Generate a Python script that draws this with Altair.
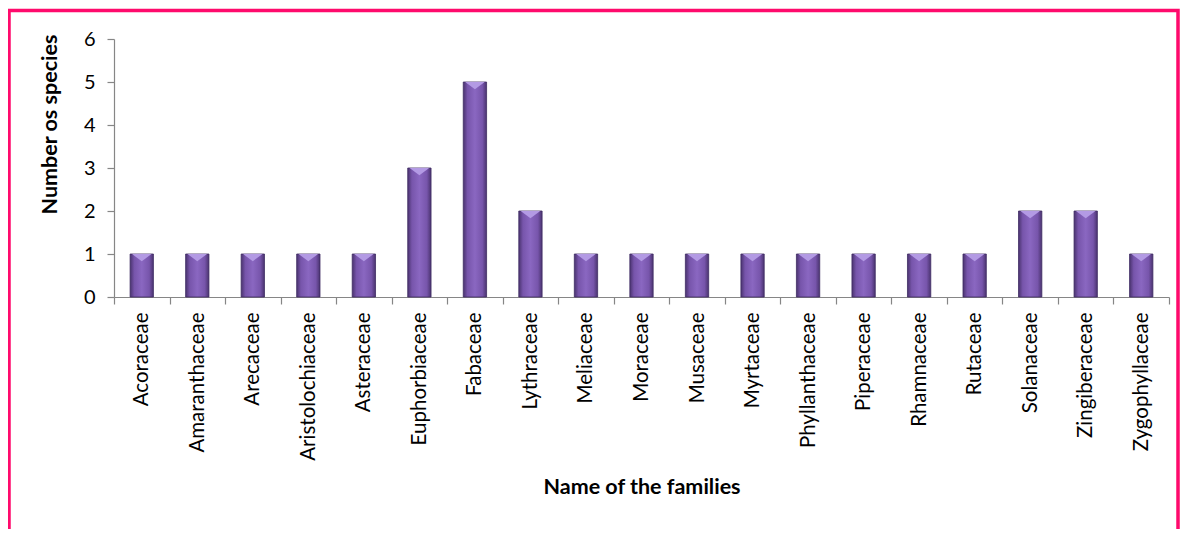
import altair as alt
import pandas as pd

families = ["Acoraceae", "Amaranthaceae", "Arecaceae", "Aristolochiaceae", "Asteraceae",
            "Euphorbiaceae", "Fabaceae", "Lythraceae", "Meliaceae", "Moraceae", "Musaceae",
            "Myrtaceae", "Phyllanthaceae", "Piperaceae", "Rhamnaceae", "Rutaceae",
            "Solanaceae", "Zingiberaceae", "Zygophyllaceae"]
species = [1, 1, 1, 1, 1, 3, 5, 2, 1, 1, 1, 1, 1, 1, 1, 1, 2, 2, 1]
y_ticks = [0, 1, 2, 3, 4, 5, 6]

df = pd.DataFrame({"family": families, "n": species})

W, H = 1055, 258
FONT = "Lato"

x_enc = alt.X("family:N", sort=families,
              scale=alt.Scale(paddingInner=0, paddingOuter=0),
              axis=alt.Axis(title="Name of the families", labelAngle=-90, labelAlign="right",
                            labelBaseline="middle", labelPadding=8, tickBand="extent",
                            tickSize=7, titleFontWeight="bold", labelFontSize=20.5,
                            titleAnchor="middle", titleY=190, titleBaseline="middle"))
y_enc = alt.Y("n:Q", scale=alt.Scale(domain=[0, 6], nice=False),
              axis=alt.Axis(title="Number os species", values=y_ticks, grid=False,
                            tickSize=7, labelPadding=12, titleFontWeight="bold",
                            labelFontSize=20,
                            titleAngle=-90, titleX=-64, titleY=85, titleAlign="center",
                            titleBaseline="middle"))

grad = alt.LinearGradient(
    gradient="linear", x1=0, x2=1, y1=0, y2=0,
    stops=[alt.GradientStop(color="#4a336f", offset=0),
           alt.GradientStop(color="#7755ab", offset=0.18),
           alt.GradientStop(color="#8a67c1", offset=0.5),
           alt.GradientStop(color="#7755ab", offset=0.82),
           alt.GradientStop(color="#4a336f", offset=1)])

bars = alt.Chart(df).mark_bar(fill=grad, stroke="#3f2c63", strokeWidth=0.8,
                              width=alt.RelativeBandSize(0.42)).encode(x=x_enc, y=y_enc)

tri = alt.Chart(df).mark_point(
    shape="M-0.85,0 L0.85,0 L0,0.62 Z", size=529, filled=True,
    fill="#b39ae4", opacity=1, strokeWidth=0
).encode(x=alt.X("family:N", sort=families), y=alt.Y("n:Q"))

frame = alt.Chart(alt.Data(values=[{"a": 1}])).mark_rect(
    fill="transparent", stroke="#ff0a6c", strokeWidth=3.5, clip=False
).encode(x=alt.value(-105), x2=alt.value(1064), y=alt.value(-28.5), y2=alt.value(700))

chart = alt.layer(frame, bars, tri).properties(
    width=W, height=H,
    autosize=alt.AutoSizeParams(type="none"),
    padding={"left": 106, "top": 31, "right": 11, "bottom": 232},
).configure_view(stroke=None).configure_axis(
    labelFont=FONT, titleFont=FONT, titleFontSize=21.5,
    labelColor="#000000", titleColor="#000000",
    domainColor="#868686", tickColor="#868686", domainWidth=1.2, tickWidth=1.2
)

chart.save("out.html", embed_options={"renderer": "svg", "actions": False})
